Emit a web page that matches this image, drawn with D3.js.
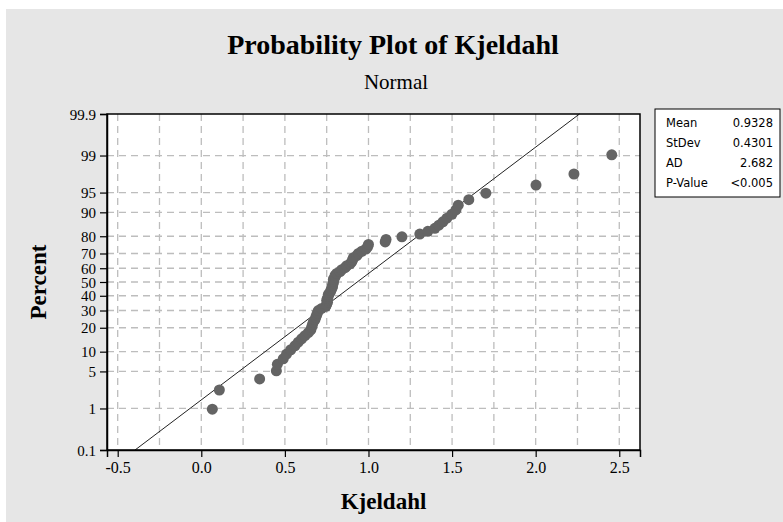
<!DOCTYPE html>
<html>
<head>
<meta charset="utf-8">
<script src="https://cdn.jsdelivr.net/npm/d3@7"></script>
<style>
  body { margin: 0; background: #fff; }
  svg text { font-family: "Liberation Serif", "Times New Roman", serif; }
</style>
</head>
<body>
<div id="chart"></div>
<script>
// chart size and margins (plot area)
var W = 783, H = 522;
var margin = {top: 114, right: 143, bottom: 72, left: 107},
    width = W - margin.left - margin.right,
    height = H - margin.top - margin.bottom;

// Kjeldahl values, sorted
var kjeldahl = [
  0.066, 0.108, 0.349, 0.449, 0.455, 0.49, 0.51, 0.535, 0.56, 0.58,
  0.60, 0.62, 0.64, 0.655, 0.66, 0.665, 0.67, 0.68, 0.685, 0.69,
  0.695, 0.70, 0.72, 0.745, 0.75, 0.755, 0.75, 0.755, 0.76, 0.76,
  0.77, 0.775, 0.78, 0.785, 0.785, 0.79, 0.79, 0.79, 0.80, 0.80,
  0.81, 0.83, 0.84, 0.86, 0.87, 0.89, 0.90, 0.905, 0.91, 0.93,
  0.94, 0.96, 0.985, 0.995, 1.0, 1.10, 1.105, 1.20, 1.307, 1.355,
  1.397, 1.421, 1.445, 1.469, 1.499, 1.523, 1.537, 1.60, 1.702, 2.002,
  2.229, 2.455
];
var fitMean = 0.9328, fitStDev = 0.4301;

var statLabels = ["Mean", "StDev", "AD", "P-Value"];
var statValues = ["0.9328", "0.4301", "2.682", "<0.005"];

var xTicks = [-0.5, 0.0, 0.5, 1.0, 1.5, 2.0, 2.5];
var xLabels = ["-0.5", "0.0", "0.5", "1.0", "1.5", "2.0", "2.5"];
var xGrid = [-0.5, -0.25, 0, 0.25, 0.5, 0.75, 1.0, 1.25, 1.5, 1.75, 2.0, 2.25, 2.5];
var pTicks = [0.1, 1, 5, 10, 20, 30, 40, 50, 60, 70, 80, 90, 95, 99, 99.9];
var pLabels = ["0.1", "1", "5", "10", "20", "30", "40", "50", "60", "70", "80", "90", "95", "99", "99.9"];

// inverse normal cdf (Acklam)
function probit(p) {
  var a = [-3.969683028665376e+01, 2.209460984245205e+02, -2.759285104469687e+02, 1.383577518672690e+02, -3.066479806614716e+01, 2.506628277459239e+00];
  var b = [-5.447609879822406e+01, 1.615858368580409e+02, -1.556989798598866e+02, 6.680131188771972e+01, -1.328068155288572e+01];
  var c = [-7.784894002430293e-03, -3.223964580411365e-01, -2.400758277161838e+00, -2.549732539343734e+00, 4.374664141464968e+00, 2.938163982698783e+00];
  var d = [7.784695709041462e-03, 3.224671290700398e-01, 2.445134137142996e+00, 3.754408661907416e+00];
  var pl = 0.02425, q, r;
  if (p < pl) {
    q = Math.sqrt(-2 * Math.log(p));
    return (((((c[0]*q+c[1])*q+c[2])*q+c[3])*q+c[4])*q+c[5]) / ((((d[0]*q+d[1])*q+d[2])*q+d[3])*q+1);
  } else if (p <= 1 - pl) {
    q = p - 0.5; r = q * q;
    return (((((a[0]*r+a[1])*r+a[2])*r+a[3])*r+a[4])*r+a[5])*q / (((((b[0]*r+b[1])*r+b[2])*r+b[3])*r+b[4])*r+1);
  } else {
    q = Math.sqrt(-2 * Math.log(1 - p));
    return -(((((c[0]*q+c[1])*q+c[2])*q+c[3])*q+c[4])*q+c[5]) / ((((d[0]*q+d[1])*q+d[2])*q+d[3])*q+1);
  }
}

var n = kjeldahl.length;
var points = kjeldahl.map(function(v, i) {
  return {x: v, z: probit((i + 1 - 0.3) / (n + 0.4))};
});

var svgRoot = d3.select("#chart").append("svg")
  .attr("width", W).attr("height", H);

// grey page background
svgRoot.append("rect")
  .attr("x", 6).attr("y", 9)
  .attr("width", W - 6).attr("height", H - 9)
  .attr("fill", "#e6e6e6");

var svg = svgRoot.append("g")
  .attr("transform", "translate(" + margin.left + "," + margin.top + ")");

var zMax = probit(0.999);
var x = d3.scaleLinear().domain([-0.564, 2.624]).range([0, width]);
var y = d3.scaleLinear().domain([-zMax, zMax]).range([height, 0]);

svg.append("rect")
  .attr("width", width).attr("height", height)
  .attr("fill", "#fff");

// grid
svg.append("g").selectAll("line.vg")
  .data(xGrid).enter().append("line")
  .attr("x1", function(d) { return x(d); })
  .attr("x2", function(d) { return x(d); })
  .attr("y1", 0).attr("y2", height)
  .attr("stroke", "#bdbdbd").attr("stroke-width", 1.3)
  .attr("stroke-dasharray", "7,5");

svg.append("g").selectAll("line.hg")
  .data(pTicks.slice(1, -1)).enter().append("line")
  .attr("x1", 0).attr("x2", width)
  .attr("y1", function(d) { return y(probit(d / 100)); })
  .attr("y2", function(d) { return y(probit(d / 100)); })
  .attr("stroke", "#bdbdbd").attr("stroke-width", 1.3)
  .attr("stroke-dasharray", "7,5");

// fitted line
var zLo = -zMax, zHi = zMax;
svg.append("line")
  .attr("x1", x(fitMean + zLo * fitStDev)).attr("y1", y(zLo))
  .attr("x2", x(fitMean + zHi * fitStDev)).attr("y2", y(zHi))
  .attr("stroke", "#222").attr("stroke-width", 1);

// points
svg.append("g").selectAll("circle")
  .data(points).enter().append("circle")
  .attr("cx", function(d) { return x(d.x); })
  .attr("cy", function(d) { return y(d.z); })
  .attr("r", 5.5)
  .attr("fill", "#646464");

// frame
svg.append("rect")
  .attr("width", width).attr("height", height)
  .attr("fill", "none").attr("stroke", "#000").attr("stroke-width", 1.5);

// axes
var xAxis = svg.append("g")
  .attr("transform", "translate(0," + height + ")")
  .call(d3.axisBottom(x).tickValues(xTicks)
    .tickFormat(function(d, i) { return xLabels[i]; })
    .tickSizeOuter(0).tickSize(7).tickPadding(5));
var yAxis = svg.append("g")
  .call(d3.axisLeft(y).tickValues(pTicks.map(function(p) { return probit(p / 100); }))
    .tickFormat(function(d, i) { return pLabels[i]; }).tickSizeOuter(0).tickSize(7).tickPadding(4));

[xAxis, yAxis].forEach(function(a) {
  a.select(".domain").attr("stroke", "#000").attr("stroke-width", 1.5);
  a.selectAll(".tick line").attr("stroke", "#000").attr("stroke-width", 1.2);
  a.selectAll(".tick text")
    .attr("fill", "#000")
    .style("font-family", "'Liberation Serif', serif")
    .style("font-size", "16px");
});
yAxis.selectAll(".tick text").attr("dy", "0.34em").style("font-size", "15px");

// titles
svgRoot.append("text")
  .attr("x", 393).attr("y", 54)
  .attr("text-anchor", "middle")
  .style("font-size", "28px").style("font-weight", "bold")
  .text("Probability Plot of Kjeldahl");

svgRoot.append("text")
  .attr("x", 396).attr("y", 89)
  .attr("text-anchor", "middle")
  .style("font-size", "21px")
  .text("Normal");

svgRoot.append("text")
  .attr("x", margin.left + width / 2 + 10).attr("y", 509)
  .attr("text-anchor", "middle")
  .style("font-size", "23px").style("font-weight", "bold")
  .text("Kjeldahl");

svgRoot.append("text")
  .attr("transform", "translate(46," + (margin.top + height / 2) + ") rotate(-90)")
  .attr("text-anchor", "middle")
  .style("font-size", "23px").style("font-weight", "bold")
  .text("Percent");

// stats box
var box = svgRoot.append("g").attr("transform", "translate(655,109)");
box.append("rect")
  .attr("width", 125).attr("height", 88)
  .attr("fill", "#fff").attr("stroke", "#000").attr("stroke-width", 1);
box.selectAll("text.lab")
  .data(statLabels).enter().append("text")
  .attr("x", 11).attr("y", function(d, i) { return 18 + i * 20; })
  .style("font-family", "'DejaVu Sans', Verdana, sans-serif")
  .style("font-size", "11.5px")
  .text(function(d) { return d; });
box.selectAll("text.val")
  .data(statValues).enter().append("text")
  .attr("x", 118).attr("y", function(d, i) { return 18 + i * 20; })
  .attr("text-anchor", "end")
  .style("font-family", "'DejaVu Sans', Verdana, sans-serif")
  .style("font-size", "11.5px")
  .text(function(d) { return d; });
</script>
</body>
</html>
